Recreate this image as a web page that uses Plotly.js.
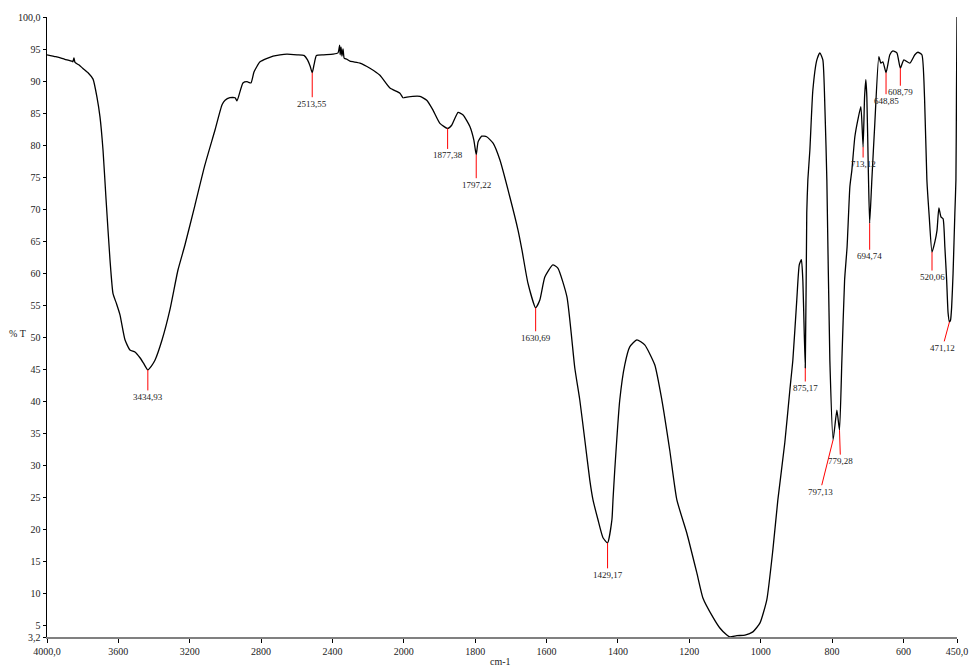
<!DOCTYPE html>
<html>
<head>
<meta charset="utf-8">
<script src="https://cdn.plot.ly/plotly-3.0.1.min.js"></script>
<style>html,body{margin:0;padding:0;background:#fff;}#chart{width:971px;height:667px;}</style>
</head>
<body>
<div id="chart"></div>
<script>
// Spectrum: wavenumber (cm-1) and transmittance (%T)
const wavenumber = [
4000,3950,3900,3860,3855,3849,3843,3820,3800,3770,3742,3720,3703,3686,3669,3647,3630,3610,3591,3563,3535,3507,3479,3460,3434.93,3415,3395,3355,3311,3266,3227,3171,3115,3058,3019,3002,2975,2946,2935,2902,2879,2857,2840,2806,2733,2694,2655,2599,2560,2540,2525,2513.55,2503,2490,2450,2397,2369,2360,2357,2352,2347,2341,2335,2330,2319,2302,2246,2190,2134,2078,2022,2005,2000,
1991.6,1955,1936,1918.7,1899,1877.38,1866,1848,1834,1815,1804,1797.22,1792,1782,1768,1750,1731,1703,1680,1669,1652.5,1630.69,1619,1605,1582.5,1568.5,1543,1521,1507,1493,1479,1470,1456,1442,1429.17,1417,1414,1409,1395,1381,1367,1347,1325,1297,1277,1255,1235,1207,1179,1162,1134,1114.5,1095,1086.5,1067,1044,1022,1002,983,966,952,
932.4,918.3,910,899,892,886,882,875.17,871,867.9,862.3,853.9,842.7,834.3,825.9,820,814.7,806.3,797.13,786.6,779.28,772.6,765,758,750.2,744.6,736.2,728,719.4,713.12,709,705.4,702.6,698.5,694.74,688.6,680.2,669,663.3,657.7,648.85,638.2,629.7,618.5,608.79,598.9,582.1,568.1,559.6,548.4,541,534.4,528,520.06,512,506,500.8,495,489,484,479,475,471.12,468,465,461,456,453,451.5,450
];
const transmittance = [
94.1,93.8,93.4,93.1,93.0,93.6,92.9,92.5,92.0,91.3,90.3,87.5,84.4,79.2,71.5,62.1,56.8,55.2,53.5,49.6,48.0,47.7,46.8,46.0,44.9,45.5,46.4,49.6,54.3,60.5,64.4,70.6,76.9,82.4,86.3,87.0,87.4,87.4,86.9,89.7,89.9,89.7,91.4,93.0,93.9,94.1,94.2,94.1,94.0,93.3,92.3,91.3,92.6,94.0,94.1,94.2,94.4,95.6,94.1,95.3,93.9,95.0,93.6,93.5,93.4,93.1,92.8,92.0,90.9,88.9,88.1,87.4,87.4,
87.5,87.6,87.0,85.5,83.4,82.6,83.1,85.1,84.7,82.9,80.8,78.5,80.5,81.4,81.3,80.3,77.7,71.9,66.7,63.6,58.5,54.6,55.8,59.4,61.3,60.8,56.3,45.2,40.2,34.0,27.7,24.6,21.5,18.7,17.9,21.5,24.6,29.3,40.2,45.7,48.5,49.6,48.8,45.7,40.2,32.4,24.6,19.4,13.2,9.3,6.3,4.6,3.5,3.2,3.4,3.5,4.0,5.4,9.0,16.8,24.6,
33.6,41.8,46.4,55.8,61.3,62.1,58.9,45.2,69.4,74.6,79.2,88.6,93.3,94.4,93.3,85.5,74.6,46.4,34.0,38.6,35.5,46.4,58.9,64.1,73.5,76.1,81.3,83.9,86.0,79.7,87.5,90.2,87.5,76.1,67.8,74.6,83.5,93.8,92.8,93.0,91.3,94.1,94.7,94.4,92.0,93.3,92.8,94.1,94.5,94.1,87.5,74.6,69.0,63.3,64.9,66.7,70.2,68.8,68.5,64.1,58.9,53.8,52.4,52.7,54.7,60.0,69.4,74.6,88.0,100
];

// Labelled peaks
const peakWn = [3434.93,2513.55,1877.38,1797.22,1630.69,1429.17,875.17,797.13,779.28,713.12,694.74,648.85,608.79,520.06,471.12];
const peakT  = [44.9,91.3,82.6,78.5,54.6,17.9,45.2,34.0,35.5,79.7,67.8,91.3,92.0,63.3,52.4];
const peakDx = [0,0,0,0,0,0,0,-13,1,0,0,0,0,0,-7];
const peakDy = [27,31,27,30,30,32,20,52,31,17,33,28,24,25,26];

const xTicks1 = [4000,3600,3200,2800,2400,2000];
const xTicks2 = [1800,1600,1400,1200,1000,800,600,450];
const yTicks = [3.2,5,10,15,20,25,30,35,40,45,50,55,60,65,70,75,80,85,90,95,100];

const fmt = (v) => (v === 4000 || v === 450 || v === 100) ? v.toFixed(1).replace('.', ',') : String(v).replace('.', ',');

const x1 = [], y1 = [], x2 = [], y2 = [];
for (let i = 0; i < wavenumber.length; i++) {
  if (wavenumber[i] >= 2000) { x1.push(wavenumber[i]); y1.push(transmittance[i]); }
  if (wavenumber[i] <= 2000) { x2.push(wavenumber[i]); y2.push(transmittance[i]); }
}

const font = {family: '"Liberation Serif", "Times New Roman", serif', size: 10, color: '#222'};
const lineStyle = {color: '#000', width: 1.3, shape: 'spline', smoothing: 0.5};

const traces = [
  {x: x1, y: y1, xaxis: 'x', yaxis: 'y', mode: 'lines', line: lineStyle, hoverinfo: 'skip'},
  {x: x2, y: y2, xaxis: 'x2', yaxis: 'y', mode: 'lines', line: lineStyle, hoverinfo: 'skip'}
];

const split = 2000 / (2000 + 2 * 1550);

const annotations = peakWn.map((w, i) => ({
  x: w, y: peakT[i], xref: w >= 2000 ? 'x' : 'x2', yref: 'y',
  text: w.toFixed(2).replace('.', ','),
  showarrow: true, arrowhead: 0, arrowwidth: 1, arrowcolor: '#ff0000', standoff: 0,
  ax: peakDx[i], ay: peakDy[i],
  font: {family: font.family, size: 9, color: '#222'}
}));
annotations.push({xref: 'paper', yref: 'paper', x: 0.498, y: 0, yshift: -24, text: 'cm-1', showarrow: false, font: font, yanchor: 'middle'});
annotations.push({xref: 'paper', yref: 'paper', x: -0.032, y: 0.49, text: '% T', showarrow: false, font: font, xanchor: 'center', yanchor: 'middle'});

const xCommon = {
  showline: true, linecolor: '#808080', linewidth: 2, ticks: 'outside', ticklen: 4, tickcolor: '#000', tickwidth: 1,
  showgrid: false, zeroline: false, tickfont: font, tickmode: 'array', anchor: 'y'
};

const layout = {
  width: 971, height: 667,
  margin: {l: 47, r: 14, t: 17, b: 30},
  paper_bgcolor: '#fff', plot_bgcolor: '#fff',
  showlegend: false,
  xaxis: Object.assign({}, xCommon, {domain: [0, split], range: [4000, 2000], tickvals: xTicks1, ticktext: xTicks1.map(fmt)}),
  xaxis2: Object.assign({}, xCommon, {domain: [split, 1], range: [2000, 450], tickvals: xTicks2, ticktext: xTicks2.map(fmt)}),
  yaxis: {
    range: [3.2, 100], showline: true, linecolor: '#000', linewidth: 1.5, ticks: 'outside', ticklen: 3, tickcolor: '#000',
    showgrid: false, zeroline: false, tickfont: font, tickmode: 'array', tickvals: yTicks, ticktext: yTicks.map(fmt)
  },
  annotations: annotations
};

Plotly.newPlot('chart', traces, layout, {displayModeBar: false, staticPlot: true});
</script>
</body>
</html>
